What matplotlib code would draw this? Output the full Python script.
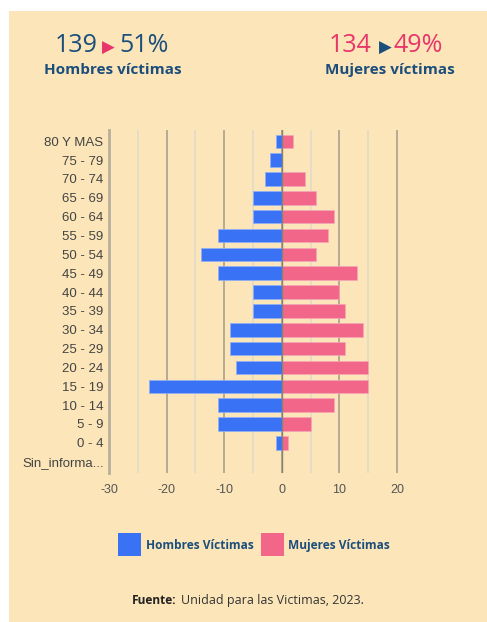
import matplotlib
matplotlib.use('Agg')
import matplotlib.pyplot as plt
from matplotlib.patches import Rectangle

# data
age_groups = ['80 Y MAS', '75 - 79', '70 - 74', '65 - 69', '60 - 64', '55 - 59',
              '50 - 54', '45 - 49', '40 - 44', '35 - 39', '30 - 34', '25 - 29',
              '20 - 24', '15 - 19', '10 - 14', '5 - 9', '0 - 4', 'Sin_informa...']
hombres = [1, 2, 3, 5, 5, 11, 14, 11, 5, 5, 9, 9, 8, 23, 11, 11, 1, 0]
mujeres = [2, 0, 4, 6, 9, 8, 6, 13, 10, 11, 14, 11, 15, 15, 9, 5, 1, 0]
x_ticks = [-30, -20, -10, 0, 10, 20]
x_minor = [-25, -15, -5, 5, 15]

BG = '#FCE6B9'
BLUE = '#3A72F6'
PINK = '#F26689'
NAVY = '#1C4E7C'
MAGENTA = '#E8366B'

fig = plt.figure(figsize=(4.87, 6.22), dpi=100)
fig.patch.set_facecolor('white')
fig.patches.append(Rectangle((9 / 487, 0), 1, 1 - 11 / 622, transform=fig.transFigure,
                             facecolor=BG, edgecolor='none', zorder=-5))

ax = fig.add_axes([109 / 487, 1 - 473 / 622, 291 / 487, 343 / 622])
ax.set_facecolor(BG)

y = list(range(len(age_groups)))
ax.barh(y, [-v for v in hombres], height=0.72, color=BLUE, edgecolor='#8FB0F8', linewidth=0.5, zorder=3)
ax.barh(y, mujeres, height=0.72, color=PINK, edgecolor='#F7A7BA', linewidth=0.5, zorder=3)

ax.set_xlim(-30, 20.5)
ax.set_ylim(len(age_groups) - 0.4, -0.6)
ax.set_yticks(y)
ax.set_yticklabels(age_groups, fontsize=9.5, color='#444444', family='Liberation Sans')
ax.set_xticks(x_ticks)
ax.set_xticklabels([str(t) for t in x_ticks], fontsize=9, color='#555555', family='Liberation Sans')
ax.tick_params(length=0, pad=8)
ax.tick_params(axis='y', pad=4)

for t in x_minor:
    ax.axvline(t, color='#E4DCC8', linewidth=1.4, zorder=1)
for t in x_ticks[1:]:
    ax.axvline(t, color='#A8A08C', linewidth=1.2, zorder=1)
ax.axvline(0, color='#8A8270', linewidth=1.0, zorder=4)

for s in ['top', 'right', 'bottom']:
    ax.spines[s].set_visible(False)
ax.spines['left'].set_color('#B8B09C')
ax.spines['left'].set_linewidth(2)

# header numbers
fig.text(55 / 487, 1 - 46 / 622, '139', fontsize=18, color=NAVY, family='Open Sans', va='center', ha='left')
fig.text(108 / 487, 1 - 48 / 622, '\u25B6', fontsize=12, color=MAGENTA, va='center', ha='center',
         family='DejaVu Sans')
fig.text(119 / 487, 1 - 46 / 622, '51%', fontsize=18, color=NAVY, family='Open Sans', va='center', ha='left')
fig.text(113 / 487, 1 - 70 / 622, 'Hombres víctimas', fontsize=11, color=NAVY, family='Open Sans',
         weight='bold', va='center', ha='center')

fig.text(329 / 487, 1 - 46 / 622, '134', fontsize=18, color=MAGENTA, family='Open Sans', va='center', ha='left')
fig.text(385 / 487, 1 - 48 / 622, '\u25B6', fontsize=12, color=NAVY, va='center', ha='center',
         family='DejaVu Sans')
fig.text(394 / 487, 1 - 46 / 622, '49%', fontsize=18, color=MAGENTA, family='Open Sans', va='center', ha='left')
fig.text(390 / 487, 1 - 70 / 622, 'Mujeres víctimas', fontsize=11, color=NAVY, family='Open Sans',
         weight='bold', va='center', ha='center')

# legend
fig.patches.append(Rectangle((118 / 487, 1 - 556 / 622), 23 / 487, 23 / 622, transform=fig.transFigure,
                             facecolor=BLUE, edgecolor='none'))
fig.text(146 / 487, 1 - 549 / 622, 'Hombres Víctimas', fontsize=8.6, color=NAVY, family='Open Sans',
         weight='bold', va='baseline', ha='left')
fig.patches.append(Rectangle((261 / 487, 1 - 556 / 622), 23 / 487, 23 / 622, transform=fig.transFigure,
                             facecolor=PINK, edgecolor='none'))
fig.text(288 / 487, 1 - 549 / 622, 'Mujeres Víctimas', fontsize=8.6, color=NAVY, family='Open Sans',
         weight='bold', va='baseline', ha='left')

# source
fig.text(132 / 487, 1 - 604 / 622, 'Fuente:', fontsize=8.6, color='#222222', family='Open Sans',
         weight='bold', va='baseline', ha='left')
fig.text(181 / 487, 1 - 604 / 622, 'Unidad para las Victimas, 2023.', fontsize=9, color='#333333',
         family='Open Sans', va='baseline', ha='left')

fig.savefig('out.png', dpi=100, facecolor=fig.get_facecolor())
